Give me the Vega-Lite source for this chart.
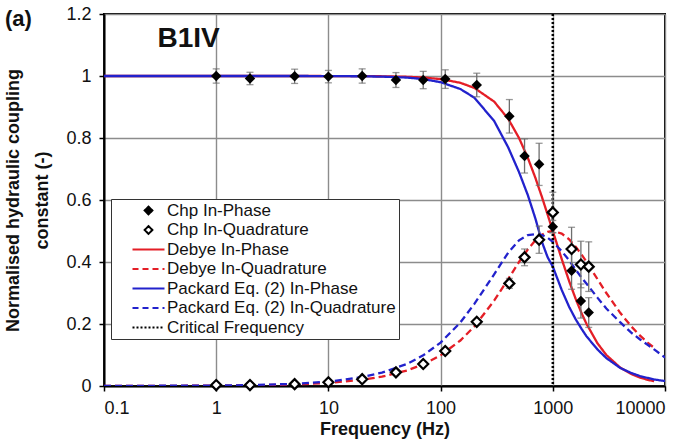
{
  "$schema": "https://vega.github.io/schema/vega-lite/v6.json",
  "width": 561,
  "height": 372,
  "autosize": "none",
  "padding": {"left": 104, "top": 14, "right": 29, "bottom": 59},
  "background": "white",
  "config": {
    "font": "Liberation Sans",
    "view": {"stroke": "black", "strokeWidth": 2},
    "axis": {
      "domainColor": "black", "domainWidth": 2,
      "gridColor": "#8c8c8c", "gridWidth": 1.4, "gridOpacity": 1,
      "tickColor": "black", "tickWidth": 1.5, "tickSize": 5,
      "labelFontSize": 18, "labelColor": "#111", "labelPadding": 8,
      "titleFontSize": 18, "titleFontWeight": "bold", "titleColor": "#111"
    }
  },
  "title": {"text": "(a)", "anchor": "start", "frame": "group", "fontSize": 22, "fontWeight": "bold", "color": "#111", "dx": -99, "offset": 0, "dy": 26},
  "datasets": {
    "curves": [
      {"f": 0.1, "v": 1, "s": "Debye In-Phase"}, {"f": 1, "v": 1, "s": "Debye In-Phase"}, {"f": 2, "v": 1, "s": "Debye In-Phase"}, {"f": 5, "v": 1, "s": "Debye In-Phase"}, {"f": 10, "v": 0.9999, "s": "Debye In-Phase"}, {"f": 20, "v": 0.9996, "s": "Debye In-Phase"}, {"f": 30, "v": 0.9991, "s": "Debye In-Phase"}, {"f": 50, "v": 0.9975, "s": "Debye In-Phase"}, {"f": 70, "v": 0.9951, "s": "Debye In-Phase"}, {"f": 100, "v": 0.9901, "s": "Debye In-Phase"}, {"f": 150, "v": 0.978, "s": "Debye In-Phase"}, {"f": 200, "v": 0.9615, "s": "Debye In-Phase"}, {"f": 300, "v": 0.9174, "s": "Debye In-Phase"}, {"f": 400, "v": 0.8621, "s": "Debye In-Phase"}, {"f": 500, "v": 0.8, "s": "Debye In-Phase"}, {"f": 600, "v": 0.7353, "s": "Debye In-Phase"}, {"f": 700, "v": 0.6711, "s": "Debye In-Phase"}, {"f": 800, "v": 0.6098, "s": "Debye In-Phase"}, {"f": 900, "v": 0.5525, "s": "Debye In-Phase"}, {"f": 1000, "v": 0.5, "s": "Debye In-Phase"}, {"f": 1200, "v": 0.4098, "s": "Debye In-Phase"}, {"f": 1400, "v": 0.3378, "s": "Debye In-Phase"}, {"f": 1600, "v": 0.2809, "s": "Debye In-Phase"}, {"f": 1800, "v": 0.2358, "s": "Debye In-Phase"}, {"f": 2000, "v": 0.2, "s": "Debye In-Phase"}, {"f": 2500, "v": 0.1379, "s": "Debye In-Phase"}, {"f": 3000, "v": 0.1, "s": "Debye In-Phase"}, {"f": 4000, "v": 0.0588, "s": "Debye In-Phase"}, {"f": 5000, "v": 0.0385, "s": "Debye In-Phase"}, {"f": 6000, "v": 0.027, "s": "Debye In-Phase"}, {"f": 7000, "v": 0.02, "s": "Debye In-Phase"}, {"f": 8000, "v": 0.0154, "s": "Debye In-Phase"},
      {"f": 0.1, "v": 0.0001, "s": "Debye In-Quadrature"}, {"f": 1, "v": 0.001, "s": "Debye In-Quadrature"}, {"f": 2, "v": 0.002, "s": "Debye In-Quadrature"}, {"f": 5, "v": 0.005, "s": "Debye In-Quadrature"}, {"f": 10, "v": 0.01, "s": "Debye In-Quadrature"}, {"f": 20, "v": 0.02, "s": "Debye In-Quadrature"}, {"f": 30, "v": 0.03, "s": "Debye In-Quadrature"}, {"f": 50, "v": 0.0499, "s": "Debye In-Quadrature"}, {"f": 70, "v": 0.0697, "s": "Debye In-Quadrature"}, {"f": 100, "v": 0.099, "s": "Debye In-Quadrature"}, {"f": 150, "v": 0.1467, "s": "Debye In-Quadrature"}, {"f": 200, "v": 0.1923, "s": "Debye In-Quadrature"}, {"f": 300, "v": 0.2752, "s": "Debye In-Quadrature"}, {"f": 400, "v": 0.3448, "s": "Debye In-Quadrature"}, {"f": 500, "v": 0.4, "s": "Debye In-Quadrature"}, {"f": 600, "v": 0.4412, "s": "Debye In-Quadrature"}, {"f": 700, "v": 0.4698, "s": "Debye In-Quadrature"}, {"f": 800, "v": 0.4878, "s": "Debye In-Quadrature"}, {"f": 900, "v": 0.4972, "s": "Debye In-Quadrature"}, {"f": 1000, "v": 0.5, "s": "Debye In-Quadrature"}, {"f": 1200, "v": 0.4918, "s": "Debye In-Quadrature"}, {"f": 1400, "v": 0.473, "s": "Debye In-Quadrature"}, {"f": 1600, "v": 0.4494, "s": "Debye In-Quadrature"}, {"f": 1800, "v": 0.4245, "s": "Debye In-Quadrature"}, {"f": 2000, "v": 0.4, "s": "Debye In-Quadrature"}, {"f": 2500, "v": 0.3448, "s": "Debye In-Quadrature"}, {"f": 3000, "v": 0.3, "s": "Debye In-Quadrature"}, {"f": 4000, "v": 0.2353, "s": "Debye In-Quadrature"}, {"f": 5000, "v": 0.1923, "s": "Debye In-Quadrature"}, {"f": 6000, "v": 0.1622, "s": "Debye In-Quadrature"}, {"f": 7000, "v": 0.14, "s": "Debye In-Quadrature"}, {"f": 8000, "v": 0.1231, "s": "Debye In-Quadrature"},
      {"f": 0.1, "v": 1, "s": "Packard Eq. (2) In-Phase"}, {"f": 1, "v": 1, "s": "Packard Eq. (2) In-Phase"}, {"f": 2, "v": 1, "s": "Packard Eq. (2) In-Phase"}, {"f": 5, "v": 1, "s": "Packard Eq. (2) In-Phase"}, {"f": 10, "v": 0.9998, "s": "Packard Eq. (2) In-Phase"}, {"f": 20, "v": 0.999, "s": "Packard Eq. (2) In-Phase"}, {"f": 30, "v": 0.998, "s": "Packard Eq. (2) In-Phase"}, {"f": 50, "v": 0.995, "s": "Packard Eq. (2) In-Phase"}, {"f": 70, "v": 0.99, "s": "Packard Eq. (2) In-Phase"}, {"f": 100, "v": 0.98, "s": "Packard Eq. (2) In-Phase"}, {"f": 150, "v": 0.958, "s": "Packard Eq. (2) In-Phase"}, {"f": 200, "v": 0.93, "s": "Packard Eq. (2) In-Phase"}, {"f": 300, "v": 0.855, "s": "Packard Eq. (2) In-Phase"}, {"f": 400, "v": 0.77, "s": "Packard Eq. (2) In-Phase"}, {"f": 500, "v": 0.69, "s": "Packard Eq. (2) In-Phase"}, {"f": 600, "v": 0.615, "s": "Packard Eq. (2) In-Phase"}, {"f": 700, "v": 0.54, "s": "Packard Eq. (2) In-Phase"}, {"f": 800, "v": 0.465, "s": "Packard Eq. (2) In-Phase"}, {"f": 900, "v": 0.415, "s": "Packard Eq. (2) In-Phase"}, {"f": 1000, "v": 0.385, "s": "Packard Eq. (2) In-Phase"}, {"f": 1200, "v": 0.31, "s": "Packard Eq. (2) In-Phase"}, {"f": 1400, "v": 0.255, "s": "Packard Eq. (2) In-Phase"}, {"f": 1600, "v": 0.215, "s": "Packard Eq. (2) In-Phase"}, {"f": 1800, "v": 0.185, "s": "Packard Eq. (2) In-Phase"}, {"f": 2000, "v": 0.16, "s": "Packard Eq. (2) In-Phase"}, {"f": 2500, "v": 0.118, "s": "Packard Eq. (2) In-Phase"}, {"f": 3000, "v": 0.09, "s": "Packard Eq. (2) In-Phase"}, {"f": 4000, "v": 0.058, "s": "Packard Eq. (2) In-Phase"}, {"f": 5000, "v": 0.042, "s": "Packard Eq. (2) In-Phase"}, {"f": 6000, "v": 0.032, "s": "Packard Eq. (2) In-Phase"}, {"f": 7000, "v": 0.026, "s": "Packard Eq. (2) In-Phase"}, {"f": 8000, "v": 0.021, "s": "Packard Eq. (2) In-Phase"}, {"f": 10000, "v": 0.016, "s": "Packard Eq. (2) In-Phase"},
      {"f": 0.1, "v": 0.0001, "s": "Packard Eq. (2) In-Quadrature"}, {"f": 1, "v": 0.0014, "s": "Packard Eq. (2) In-Quadrature"}, {"f": 2, "v": 0.003, "s": "Packard Eq. (2) In-Quadrature"}, {"f": 5, "v": 0.007, "s": "Packard Eq. (2) In-Quadrature"}, {"f": 10, "v": 0.014, "s": "Packard Eq. (2) In-Quadrature"}, {"f": 20, "v": 0.029, "s": "Packard Eq. (2) In-Quadrature"}, {"f": 30, "v": 0.043, "s": "Packard Eq. (2) In-Quadrature"}, {"f": 50, "v": 0.071, "s": "Packard Eq. (2) In-Quadrature"}, {"f": 70, "v": 0.099, "s": "Packard Eq. (2) In-Quadrature"}, {"f": 100, "v": 0.14, "s": "Packard Eq. (2) In-Quadrature"}, {"f": 150, "v": 0.205, "s": "Packard Eq. (2) In-Quadrature"}, {"f": 200, "v": 0.265, "s": "Packard Eq. (2) In-Quadrature"}, {"f": 300, "v": 0.36, "s": "Packard Eq. (2) In-Quadrature"}, {"f": 400, "v": 0.43, "s": "Packard Eq. (2) In-Quadrature"}, {"f": 500, "v": 0.47, "s": "Packard Eq. (2) In-Quadrature"}, {"f": 600, "v": 0.487, "s": "Packard Eq. (2) In-Quadrature"}, {"f": 700, "v": 0.49, "s": "Packard Eq. (2) In-Quadrature"}, {"f": 800, "v": 0.487, "s": "Packard Eq. (2) In-Quadrature"}, {"f": 900, "v": 0.478, "s": "Packard Eq. (2) In-Quadrature"}, {"f": 1000, "v": 0.465, "s": "Packard Eq. (2) In-Quadrature"}, {"f": 1200, "v": 0.435, "s": "Packard Eq. (2) In-Quadrature"}, {"f": 1400, "v": 0.405, "s": "Packard Eq. (2) In-Quadrature"}, {"f": 1600, "v": 0.375, "s": "Packard Eq. (2) In-Quadrature"}, {"f": 1800, "v": 0.35, "s": "Packard Eq. (2) In-Quadrature"}, {"f": 2000, "v": 0.33, "s": "Packard Eq. (2) In-Quadrature"}, {"f": 2500, "v": 0.285, "s": "Packard Eq. (2) In-Quadrature"}, {"f": 3000, "v": 0.25, "s": "Packard Eq. (2) In-Quadrature"}, {"f": 4000, "v": 0.205, "s": "Packard Eq. (2) In-Quadrature"}, {"f": 5000, "v": 0.172, "s": "Packard Eq. (2) In-Quadrature"}, {"f": 6000, "v": 0.15, "s": "Packard Eq. (2) In-Quadrature"}, {"f": 7000, "v": 0.133, "s": "Packard Eq. (2) In-Quadrature"}, {"f": 8000, "v": 0.118, "s": "Packard Eq. (2) In-Quadrature"}, {"f": 10000, "v": 0.092, "s": "Packard Eq. (2) In-Quadrature"}
    ],
    "points": [
      {"f": 1, "v": 1.0, "lo": 0.977, "hi": 1.023, "s": "Chp In-Phase"},
      {"f": 2, "v": 0.992, "lo": 0.972, "hi": 1.012, "s": "Chp In-Phase"},
      {"f": 5, "v": 0.999, "lo": 0.976, "hi": 1.022, "s": "Chp In-Phase"},
      {"f": 10, "v": 0.998, "lo": 0.978, "hi": 1.018, "s": "Chp In-Phase"},
      {"f": 20, "v": 1.0, "lo": 0.977, "hi": 1.023, "s": "Chp In-Phase"},
      {"f": 40, "v": 0.987, "lo": 0.963, "hi": 1.011, "s": "Chp In-Phase"},
      {"f": 70, "v": 0.987, "lo": 0.959, "hi": 1.015, "s": "Chp In-Phase"},
      {"f": 110, "v": 0.99, "lo": 0.96, "hi": 1.02, "s": "Chp In-Phase"},
      {"f": 210, "v": 0.971, "lo": 0.933, "hi": 1.009, "s": "Chp In-Phase"},
      {"f": 410, "v": 0.87, "lo": 0.816, "hi": 0.924, "s": "Chp In-Phase"},
      {"f": 560, "v": 0.742, "lo": 0.687, "hi": 0.797, "s": "Chp In-Phase"},
      {"f": 755, "v": 0.715, "lo": 0.647, "hi": 0.783, "s": "Chp In-Phase"},
      {"f": 1000, "v": 0.514, "lo": 0.494, "hi": 0.534, "s": "Chp In-Phase"},
      {"f": 1470, "v": 0.372, "lo": 0.312, "hi": 0.432, "s": "Chp In-Phase"},
      {"f": 1780, "v": 0.274, "lo": 0.219, "hi": 0.329, "s": "Chp In-Phase"},
      {"f": 2090, "v": 0.237, "lo": 0.189, "hi": 0.285, "s": "Chp In-Phase"},
      {"f": 1, "v": 0.003, "lo": 0.003, "hi": 0.003, "s": "Chp In-Quadrature"},
      {"f": 2, "v": 0.003, "lo": 0.003, "hi": 0.003, "s": "Chp In-Quadrature"},
      {"f": 5, "v": 0.006, "lo": 0.006, "hi": 0.006, "s": "Chp In-Quadrature"},
      {"f": 10, "v": 0.012, "lo": 0.012, "hi": 0.012, "s": "Chp In-Quadrature"},
      {"f": 20, "v": 0.022, "lo": 0.022, "hi": 0.022, "s": "Chp In-Quadrature"},
      {"f": 40, "v": 0.044, "lo": 0.044, "hi": 0.044, "s": "Chp In-Quadrature"},
      {"f": 70, "v": 0.071, "lo": 0.071, "hi": 0.071, "s": "Chp In-Quadrature"},
      {"f": 110, "v": 0.113, "lo": 0.113, "hi": 0.113, "s": "Chp In-Quadrature"},
      {"f": 210, "v": 0.207, "lo": 0.207, "hi": 0.207, "s": "Chp In-Quadrature"},
      {"f": 410, "v": 0.331, "lo": 0.315, "hi": 0.347, "s": "Chp In-Quadrature"},
      {"f": 560, "v": 0.415, "lo": 0.388, "hi": 0.442, "s": "Chp In-Quadrature"},
      {"f": 755, "v": 0.472, "lo": 0.428, "hi": 0.516, "s": "Chp In-Quadrature"},
      {"f": 1000, "v": 0.56, "lo": 0.495, "hi": 0.625, "s": "Chp In-Quadrature"},
      {"f": 1470, "v": 0.442, "lo": 0.372, "hi": 0.512, "s": "Chp In-Quadrature"},
      {"f": 1780, "v": 0.392, "lo": 0.317, "hi": 0.467, "s": "Chp In-Quadrature"},
      {"f": 2090, "v": 0.385, "lo": 0.305, "hi": 0.465, "s": "Chp In-Quadrature"}
    ]
  },
  "layer": [
    {
      "data": {"name": "curves"},
      "mark": {"type": "line", "strokeWidth": 2.3, "clip": true},
      "encoding": {
        "x": {
          "field": "f", "type": "quantitative",
          "scale": {"type": "log", "domain": [0.1, 10000]},
          "axis": {"values": [0.1, 1, 10, 100, 1000, 10000], "format": "~g", "title": "Frequency (Hz)", "grid": true, "titleY": 48, "titleBaseline": "alphabetic"}
        },
        "y": {
          "field": "v", "type": "quantitative",
          "scale": {"domain": [0, 1.2], "nice": false},
          "axis": {"values": [0, 0.2, 0.4, 0.6, 0.8, 1, 1.2], "format": ".1~f", "title": ["Normalised hydraulic coupling", "constant (-)"], "grid": true, "titleX": -86, "titleY": 186, "titleAlign": "center", "titleBaseline": "alphabetic", "titleAngle": -90, "titleLineHeight": 29}
        },
        "color": {
          "field": "s", "type": "nominal",
          "scale": {
            "domain": ["Chp In-Phase", "Chp In-Quadrature", "Debye In-Phase", "Debye In-Quadrature", "Packard Eq. (2) In-Phase", "Packard Eq. (2) In-Quadrature", "Critical Frequency"],
            "range": ["black", "black", "#e41e26", "#e41e26", "#2222cc", "#2222cc", "black"]
          },
          "legend": {
            "orient": "none", "legendX": 7, "legendY": 185, "title": null,
            "fillColor": "white", "strokeColor": "#333", "padding": 3,
            "labelFontSize": 17, "labelColor": "#111", "labelFont": "Liberation Sans", "labelLimit": 400,
            "symbolOffset": 26, "labelOffset": 10, "rowPadding": 1.5,
            "symbolSize": 100, "symbolStrokeWidth": 2, "symbolType": "stroke",
            "encode": {"symbols": {"update": {
              "shape": {"signal": "datum.value == 'Chp In-Phase' || datum.value == 'Chp In-Quadrature' ? 'diamond' : 'M-3.2,0H3.2'"},
              "size": {"signal": "datum.value == 'Chp In-Phase' || datum.value == 'Chp In-Quadrature' ? 60 : 100"},
              "fill": {"signal": "datum.value == 'Chp In-Phase' ? 'black' : datum.value == 'Chp In-Quadrature' ? 'white' : 'transparent'"},
              "stroke": {"signal": "scale('color', datum.value)"},
              "strokeDash": {"signal": "datum.value == 'Critical Frequency' ? [2, 2] : (datum.value == 'Debye In-Quadrature' || datum.value == 'Packard Eq. (2) In-Quadrature') ? [6, 4] : [1, 0]"},
              "strokeWidth": {"value": 2},
              "opacity": {"value": 1}
            }}}
          }
        },
        "strokeDash": {
          "field": "s", "type": "nominal",
          "scale": {"domain": ["Debye In-Phase", "Debye In-Quadrature", "Packard Eq. (2) In-Phase", "Packard Eq. (2) In-Quadrature"], "range": [[1, 0], [7, 4], [1, 0], [7, 4]]},
          "legend": null
        }
      }
    },
    {
      "data": {"values": [{"f": 1000, "s": "Critical Frequency"}]},
      "mark": {"type": "rule", "color": "black", "strokeWidth": 2.5, "strokeDash": [2, 2]},
      "encoding": {"x": {"field": "f", "type": "quantitative"}}
    },
    {
      "data": {"name": "points"},
      "mark": {"type": "rule", "color": "#6e6e6e", "strokeWidth": 1.3},
      "encoding": {
        "x": {"field": "f", "type": "quantitative"},
        "y": {"field": "lo", "type": "quantitative"},
        "y2": {"field": "hi"}
      }
    },
    {
      "data": {"name": "points"},
      "mark": {"type": "tick", "orient": "horizontal", "color": "#6e6e6e", "size": 7, "thickness": 1.3},
      "encoding": {
        "x": {"field": "f", "type": "quantitative"},
        "y": {"field": "lo", "type": "quantitative"}
      }
    },
    {
      "data": {"name": "points"},
      "mark": {"type": "tick", "orient": "horizontal", "color": "#6e6e6e", "size": 7, "thickness": 1.3},
      "encoding": {
        "x": {"field": "f", "type": "quantitative"},
        "y": {"field": "hi", "type": "quantitative"}
      }
    },
    {
      "data": {"name": "points"},
      "transform": [{"filter": "datum.s == 'Chp In-Quadrature'"}],
      "mark": {"type": "point", "shape": "diamond", "filled": false, "fill": "white", "fillOpacity": 1, "stroke": "black", "strokeWidth": 2.2, "size": 100, "opacity": 1},
      "encoding": {
        "x": {"field": "f", "type": "quantitative"},
        "y": {"field": "v", "type": "quantitative"}
      }
    },
    {
      "data": {"name": "points"},
      "transform": [{"filter": "datum.s == 'Chp In-Phase'"}],
      "mark": {"type": "point", "shape": "diamond", "filled": true, "color": "black", "size": 110, "opacity": 1},
      "encoding": {
        "x": {"field": "f", "type": "quantitative"},
        "y": {"field": "v", "type": "quantitative"}
      }
    },
    {
      "data": {"values": [{"f": 0.3, "v": 1.093, "t": "B1IV"}]},
      "mark": {"type": "text", "align": "left", "baseline": "alphabetic", "fontSize": 28, "fontWeight": "bold", "color": "#111"},
      "encoding": {
        "x": {"field": "f", "type": "quantitative"},
        "y": {"field": "v", "type": "quantitative"},
        "text": {"field": "t"}
      }
    }
  ]
}
